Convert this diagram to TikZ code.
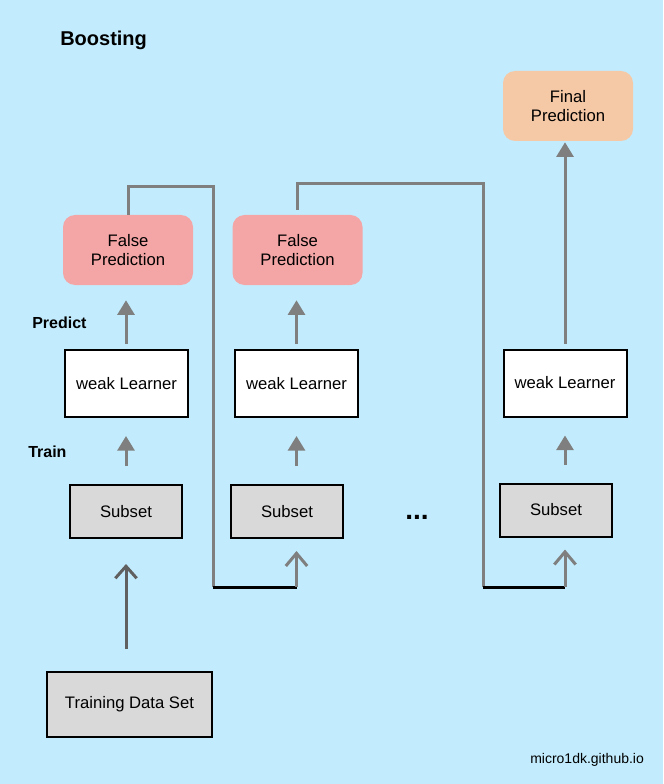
\documentclass[tikz,border=0pt]{standalone}
\usepackage{fontspec}
\setmainfont{Liberation Sans}
\usetikzlibrary{arrows.meta}
\definecolor{bgblue}{RGB}{194,236,253}
\definecolor{falsered}{RGB}{244,165,165}
\definecolor{finalorange}{RGB}{245,200,166}
\definecolor{boxgray}{RGB}{217,217,217}
\definecolor{linegray}{RGB}{127,127,127}
\definecolor{darkgray}{RGB}{96,96,96}

\begin{document}
\begin{tikzpicture}[x=0.75pt,y=-0.75pt,
  every node/.style={font=\fontsize{12.5}{14.5}\selectfont,align=center,inner sep=0pt},
  pred/.style={rounded corners=9pt,minimum width=97.5pt,minimum height=52.5pt},
  learner/.style={draw=black,fill=white,line width=1.5pt,minimum width=92.25pt,minimum height=50.25pt},
  subset/.style={draw=black,fill=boxgray,line width=1.5pt,minimum width=84pt,minimum height=39.75pt},
  up/.style={draw=linegray,line width=2.25pt,-{Triangle[length=11pt,width=12.75pt]}},
  feed/.style={draw=linegray,line width=2.25pt,-{Straight Barb[length=9.5pt,width=16pt]}},
  label/.style={font=\fontsize{12}{14}\selectfont\bfseries,anchor=west}]
  \fill[bgblue] (0,0) rectangle (663,784);
  \node[font=\fontsize{15}{18}\selectfont\bfseries,anchor=west] (title) at (60,40) {Boosting};
  \node[label] (predict) at (32,323) {Predict};
  \node[label] (train) at (28,452) {Train};
  \node[pred,fill=falsered] (fp1) at (128,250) {False\\Prediction};
  \node[pred,fill=falsered] (fp2) at (297.5,250) {False\\Prediction};
  \node[pred,fill=finalorange] (final) at (568,106) {Final\\Prediction};
  \node[learner] (wl1) at (126.5,383.5) {weak Learner};
  \node[learner] (wl2) at (296.5,383.5) {weak Learner};
  \node[learner] (wl3) at (565,383) {weak Learner};
  \node[subset] (sub1) at (126,511.5) {Subset};
  \node[subset] (sub2) at (287,511.5) {Subset};
  \node[subset] (sub3) at (556,510) {Subset};
  \node[draw=black,fill=boxgray,line width=1.5pt,minimum width=123.75pt,minimum height=48.75pt] (data) at (129.5,704.5) {Training Data Set};
  \node[font=\fontsize{21}{21}\selectfont\bfseries] (dots) at (417,517) {...};
  \node[font=\fontsize{10.5}{12}\selectfont,anchor=west] (site) at (530,760) {micro1dk.github.io};
  \coordinate (t1) at (213,187);
  \coordinate (b1) at (213,587);
  \coordinate (t2) at (483,184);
  \coordinate (b2) at (483,587);
  \draw[up,shorten <=13.5pt,shorten >=13.5pt] (sub1.north) -- (sub1.north |- wl1.south);
  \draw[up,shorten <=3.75pt,shorten >=11.25pt] (wl1.north -| sub1) -- (sub1 |- fp1.south);
  \draw[up,shorten <=13.5pt,shorten >=13.5pt] (wl2.south |- sub2.north) -- (wl2.south);
  \draw[up,shorten <=3.75pt,shorten >=11.25pt] (wl2.north) -- (wl2.north |- fp2.south);
  \draw[up,shorten <=13.5pt,shorten >=13.5pt] (wl3.south |- sub3.north) -- (wl3.south);
  \draw[up,shorten <=3.75pt,shorten >=0.75pt] (wl3.north) -- (wl3.north |- final.south);
  \draw[draw=darkgray,line width=2.25pt,-{Straight Barb[length=9pt,width=16pt]},shorten <=16.5pt,shorten >=18.75pt] (sub1.south |- data.north) -- (sub1.south);
  \draw[linegray,line width=2.25pt] (fp1.north) |- (t1) -- (b1);
  \draw[black,line width=2.25pt] (b1) -- (b1 -| wl2);
  \draw[feed,shorten >=9pt] (b1 -| wl2) -- (wl2 |- sub2.south);
  \draw[linegray,line width=2.25pt] ([yshift=3.75pt]fp2.north) |- (t2) -- (b2);
  \draw[black,line width=2.25pt] (b2) -- (b2 -| wl3);
  \draw[feed,shorten >=9pt] (b2 -| wl3) -- (wl3 |- sub3.south);
\end{tikzpicture}
\end{document}
